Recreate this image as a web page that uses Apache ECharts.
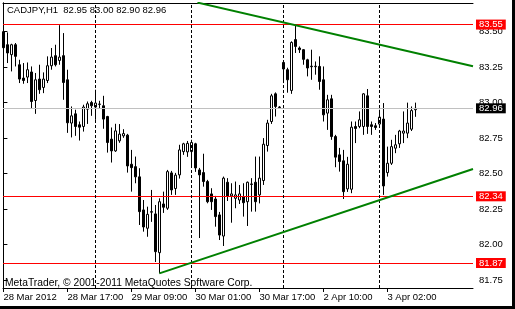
<!DOCTYPE html>
<html><head><meta charset="utf-8">
<script src="https://cdn.jsdelivr.net/npm/echarts@6/dist/echarts.min.js"></script>
<style>html,body{margin:0;padding:0;background:#fff}#c{width:515px;height:309px}</style>
</head><body><div id="c"></div>
<script>
// H1 bars, index 0 = 28 Mar 2012 01:00
const open = [83.50,83.408,83.338,83.408,83.267,83.173,83.18,83.216,83.015,83.166,
83.107,83.156,83.26,83.331,83.297,83.331,83.161,82.856,82.921,82.844,
82.832,82.954,83.001,82.969,82.99,82.978,82.902,82.743,82.66,82.731,
82.766,82.771,82.566,82.549,82.477,82.244,82.115,82.228,82.216,81.943,
82.286,82.256,82.505,82.395,82.491,82.655,82.653,82.655,82.71,82.526,
82.507,82.444,82.357,82.321,82.209,82.06,82.439,82.343,82.326,82.314,
82.338,82.302,82.427,82.439,82.35,82.451,82.698,82.867,83.062,82.969,
83.283,83.232,83.086,83.444,83.385,83.373,83.302,83.257,83.253,83.255,
83.161,82.926,83.027,82.761,82.632,82.59,82.392,82.39,82.832,82.832,
82.832,83.048,82.844,82.837,82.849,82.884,82.507,82.573,82.679,82.71,
82.785,82.785,82.813,82.95];
const high = [83.535,83.495,83.415,83.42,83.302,83.279,83.283,83.255,83.209,83.267,
83.213,83.326,83.385,83.408,83.546,83.49,83.232,82.973,82.95,82.867,
82.985,83.008,83.013,83.091,83.013,83.048,82.907,82.825,82.851,82.849,
82.813,82.78,82.667,82.62,82.538,82.314,82.267,82.385,82.279,82.326,
82.373,82.526,82.519,82.505,82.703,82.717,82.73,82.738,82.717,82.54,
82.64,82.456,82.397,82.343,82.23,82.479,82.468,82.432,82.444,82.42,
82.432,82.444,82.468,82.62,82.62,82.75,82.879,83.062,83.072,82.975,
83.29,83.246,83.432,83.546,83.396,83.378,83.309,83.373,83.29,83.326,
83.255,83.055,83.055,82.773,82.681,82.667,82.618,82.867,82.867,82.938,
83.067,83.096,82.867,82.856,82.95,82.997,82.69,82.738,82.773,82.808,
82.938,83.0,82.973,83.00];
const low = [83.373,83.279,83.22,83.255,83.138,83.133,83.138,82.962,82.921,83.062,
83.067,83.138,83.232,83.255,83.267,83.02,82.787,82.755,82.766,82.733,
82.796,82.85,82.907,82.879,82.956,82.816,82.648,82.578,82.653,82.717,
82.752,82.507,82.373,82.432,82.138,82.091,82.055,82.16,81.877,81.797,
82.223,82.244,82.35,82.35,82.465,82.632,82.618,82.54,82.512,82.046,
82.408,82.291,82.244,82.126,82.032,81.99,82.307,82.154,82.256,82.286,
82.197,82.131,82.232,82.232,82.29,82.42,82.655,82.85,82.902,82.962,
83.138,83.07,83.062,83.35,83.35,83.267,83.185,83.161,83.197,83.091,
82.867,82.808,82.738,82.545,82.514,82.321,82.371,82.362,82.715,82.82,
82.773,82.78,82.773,82.808,82.83,82.35,82.479,82.561,82.644,82.681,
82.715,82.75,82.80,82.90];
const close = [83.387,83.35,83.408,83.326,83.166,83.156,83.232,83.008,83.161,83.091,
83.166,83.26,83.321,83.267,83.321,83.142,82.858,82.907,82.832,82.827,
82.969,82.992,82.978,82.997,82.988,82.884,82.719,82.66,82.801,82.778,
82.782,82.554,82.542,82.477,82.232,82.124,82.213,82.232,81.95,82.302,
82.263,82.514,82.385,82.489,82.667,82.71,82.713,82.719,82.54,82.491,
82.444,82.302,82.302,82.197,82.067,82.468,82.343,82.357,82.35,82.357,
82.295,82.439,82.424,82.302,82.468,82.707,82.856,83.048,82.973,82.966,
83.237,83.161,83.424,83.396,83.373,83.305,83.244,83.253,83.257,83.149,
82.914,83.02,82.761,82.616,82.585,82.373,82.566,82.827,82.818,82.879,
83.062,82.832,82.832,82.825,82.898,82.413,82.573,82.69,82.703,82.80,
82.80,82.856,82.944,82.96];

const xTickBars = [0,16,32,48,64,80,96];
const xTickLabels = ['28 Mar 2012','28 Mar 17:00','29 Mar 09:00','30 Mar 01:00','30 Mar 17:00','2 Apr 10:00','3 Apr 02:00'];
const yTicks = [81.75,82.00,82.25,82.50,82.75,83.00,83.25,83.50];
const levels = [83.55,82.34,81.87];
const bidPrice = 82.96;
const daySeparators = [23,47,70,94];
const trendUpper = [[48.5,83.705],[117.4,83.257]];
const trendLower = [[39,81.797],[117.4,82.532]];
const titleText = 'CADJPY,H1  82.95 83.00 82.90 82.96';
const footerText = 'MetaTrader, \u00a9 2001-2011 MetaQuotes Software Corp.';

const FONT = 'Liberation Sans';
const FS = 9.5;
const candles = open.map((o,i)=>[i,o,close[i],low[i],high[i]]);

const markData = [];
levels.forEach(v=>markData.push({yAxis:v,lineStyle:{color:'#ff0000',width:1,type:'solid'},
  label:{show:true,position:'end',distance:3,formatter:p=>Number(p.value).toFixed(2),
  backgroundColor:'#ff0000',color:'#fff',padding:[0,3],lineHeight:10,fontSize:FS,fontFamily:FONT}}));
markData.push({yAxis:bidPrice,lineStyle:{color:'#c0c0c0',width:1,type:'solid'},
  label:{show:true,position:'end',distance:3,formatter:p=>Number(p.value).toFixed(2),
  backgroundColor:'#000',color:'#fff',padding:[0,3],lineHeight:10,fontSize:FS,fontFamily:FONT}});
daySeparators.forEach(v=>markData.push({xAxis:v,lineStyle:{color:'#000',width:1,type:[3,2]},label:{show:false}}));

const chart = echarts.init(document.getElementById('c'),null,{renderer:'canvas'});
chart.setOption({
  animation:false,
  backgroundColor:'#fff',
  textStyle:{fontFamily:FONT},
  title:[
    {text:titleText,left:7,top:5,padding:0,textStyle:{fontSize:FS,fontWeight:'normal',color:'#000',fontFamily:FONT,lineHeight:11}},
    {text:footerText,left:5,top:278,padding:0,textStyle:{fontSize:10.3,fontWeight:'normal',color:'#000',fontFamily:FONT,lineHeight:11}}
  ],
  grid:{left:3,top:3,right:42,bottom:21,containLabel:false},
  xAxis:[
    {type:'value',min:-0.1,max:117.4,position:'bottom',
     axisLine:{show:true,lineStyle:{color:'#000',width:1}},
     axisTick:{show:true,length:4,lineStyle:{color:'#000'},customValues:xTickBars},
     axisLabel:{show:true,customValues:xTickBars,align:'left',margin:4,color:'#000',fontSize:FS,fontFamily:FONT,
       formatter:v=>xTickLabels[xTickBars.indexOf(Math.round(v))]||''},
     splitLine:{show:false}},
    {type:'value',position:'top',min:0,max:1,
     axisLine:{show:true,onZero:false,lineStyle:{color:'#000'}},axisTick:{show:false},axisLabel:{show:false},splitLine:{show:false}}
  ],
  yAxis:[
    {type:'value',position:'right',min:81.694,max:83.702,
     axisLine:{show:true,lineStyle:{color:'#000',width:1}},
     axisTick:{show:true,length:4,lineStyle:{color:'#000'},customValues:yTicks},
     axisLabel:{show:true,customValues:yTicks,margin:6,color:'#000',fontSize:FS,fontFamily:FONT,formatter:v=>v.toFixed(2)},
     splitLine:{show:false}},
    {type:'value',position:'left',min:0,max:1,
     axisLine:{show:true,onZero:false,lineStyle:{color:'#000'}},axisTick:{show:false},axisLabel:{show:false},splitLine:{show:false}}
  ],
  series:[
    {type:'candlestick',data:candles,barWidth:3,
     itemStyle:{color:'#ffffff',color0:'#000000',borderColor:'#000000',borderColor0:'#000000',borderWidth:1},
     markLine:{silent:true,symbol:['none','none'],animation:false,precision:2,data:markData}},
    {type:'line',data:trendUpper,symbol:'none',clip:true,z:5,lineStyle:{color:'#008000',width:2}},
    {type:'line',data:trendLower,symbol:'none',clip:true,z:5,lineStyle:{color:'#008000',width:2}}
  ],
  graphic:[
    {type:'rect',right:0,top:0,shape:{width:3,height:309},style:{fill:'#000'},silent:true},
    {type:'rect',left:0,bottom:0,shape:{width:515,height:3},style:{fill:'#000'},silent:true}
  ]
});
</script></body></html>
